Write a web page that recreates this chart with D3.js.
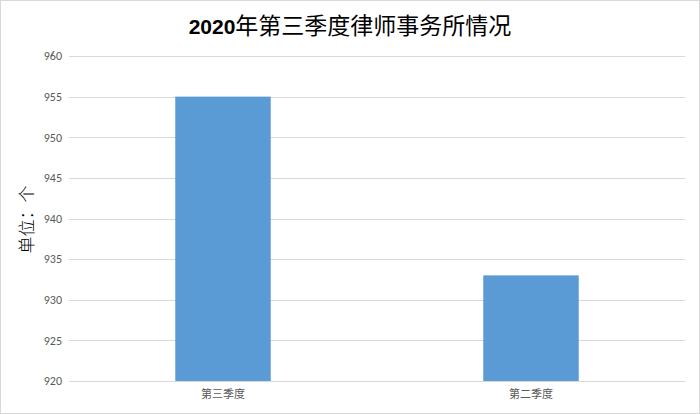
<!DOCTYPE html>
<html>
<head>
<meta charset="utf-8">
<script src="https://cdn.jsdelivr.net/npm/d3@7"></script>
<style>
  body { margin: 0; background: #fff; }
  svg { display: block; }
</style>
</head>
<body>
<svg></svg>
<script>
// Chart data
const categories = ["第三季度", "第二季度"];
const values = [955, 933];
const yTicks = [920, 925, 930, 935, 940, 945, 950, 955, 960];

const width = 700;
const height = 414;
const margin = { top: 56, right: 15, bottom: 33, left: 69 };

const svg = d3.select("svg").attr("width", width).attr("height", height);

// Outer frame
svg
  .append("rect")
  .attr("x", 0.5)
  .attr("y", 0.5)
  .attr("width", width - 1)
  .attr("height", height - 1)
  .attr("fill", "#fff")
  .attr("stroke", "#d9d9d9");

const x = d3
  .scaleBand()
  .domain(categories)
  .range([margin.left, width - margin.right])
  .paddingInner(0.69)
  .paddingOuter(0.345);

const y = d3
  .scaleLinear()
  .domain([920, 960])
  .range([height - margin.bottom, margin.top]);

// Gridlines
svg
  .append("g")
  .selectAll("line")
  .data(yTicks)
  .enter()
  .append("line")
  .attr("x1", margin.left)
  .attr("x2", width - margin.right)
  .attr("y1", (d) => Math.round(y(d)) + 0.5)
  .attr("y2", (d) => Math.round(y(d)) + 0.5)
  .attr("stroke", "#d9d9d9")
  .attr("stroke-width", 1);

// Y axis labels
const yAxis = d3.axisLeft(y).tickValues(yTicks).tickSize(0).tickPadding(7);
svg
  .append("g")
  .attr("transform", `translate(${margin.left},0)`)
  .call(yAxis)
  .call((g) => g.select(".domain").remove())
  .selectAll("text")
  .attr("fill", "#595959")
  .style("font-family", "Calibri, 'Liberation Sans', 'Open Sans', sans-serif")
  .style("font-size", "12px");

// Bars
svg
  .append("g")
  .selectAll("rect")
  .data(values)
  .enter()
  .append("rect")
  .attr("x", (d, i) => x(categories[i]))
  .attr("width", x.bandwidth())
  .attr("y", (d) => y(d))
  .attr("height", (d) => y(920) - y(d))
  .attr("fill", "#5b9bd5");

// X axis labels
const xAxis = d3.axisBottom(x).tickSize(0).tickPadding(9);
svg
  .append("g")
  .attr("transform", `translate(0,${height - margin.bottom})`)
  .call(xAxis)
  .call((g) => g.select(".domain").remove())
  .selectAll("text")
  .attr("fill", "#595959")
  .style("font-family", "'Noto Sans CJK SC', sans-serif")
  .style("font-size", "11px");

// Title
const title = svg
  .append("text")
  .attr("x", width / 2)
  .attr("y", 34)
  .attr("text-anchor", "middle")
  .attr("fill", "#000");
title
  .append("tspan")
  .style("font-family", "'Liberation Sans', sans-serif")
  .style("font-weight", "bold")
  .style("font-size", "21px")
  .text("2020");
title
  .append("tspan")
  .style("font-family", "'Noto Sans CJK SC', sans-serif")
  .style("font-size", "23px")
  .text("年第三季度律师事务所情况");

// Y axis title
svg
  .append("text")
  .attr("transform", `translate(33, ${(margin.top + height - margin.bottom) / 2 + 1}) rotate(-90)`)
  .attr("text-anchor", "middle")
  .attr("fill", "#000")
  .style("font-family", "'Noto Sans CJK SC', sans-serif")
  .style("font-weight", 300)
  .style("font-size", "17px")
  .text("单位：个");
</script>
</body>
</html>
